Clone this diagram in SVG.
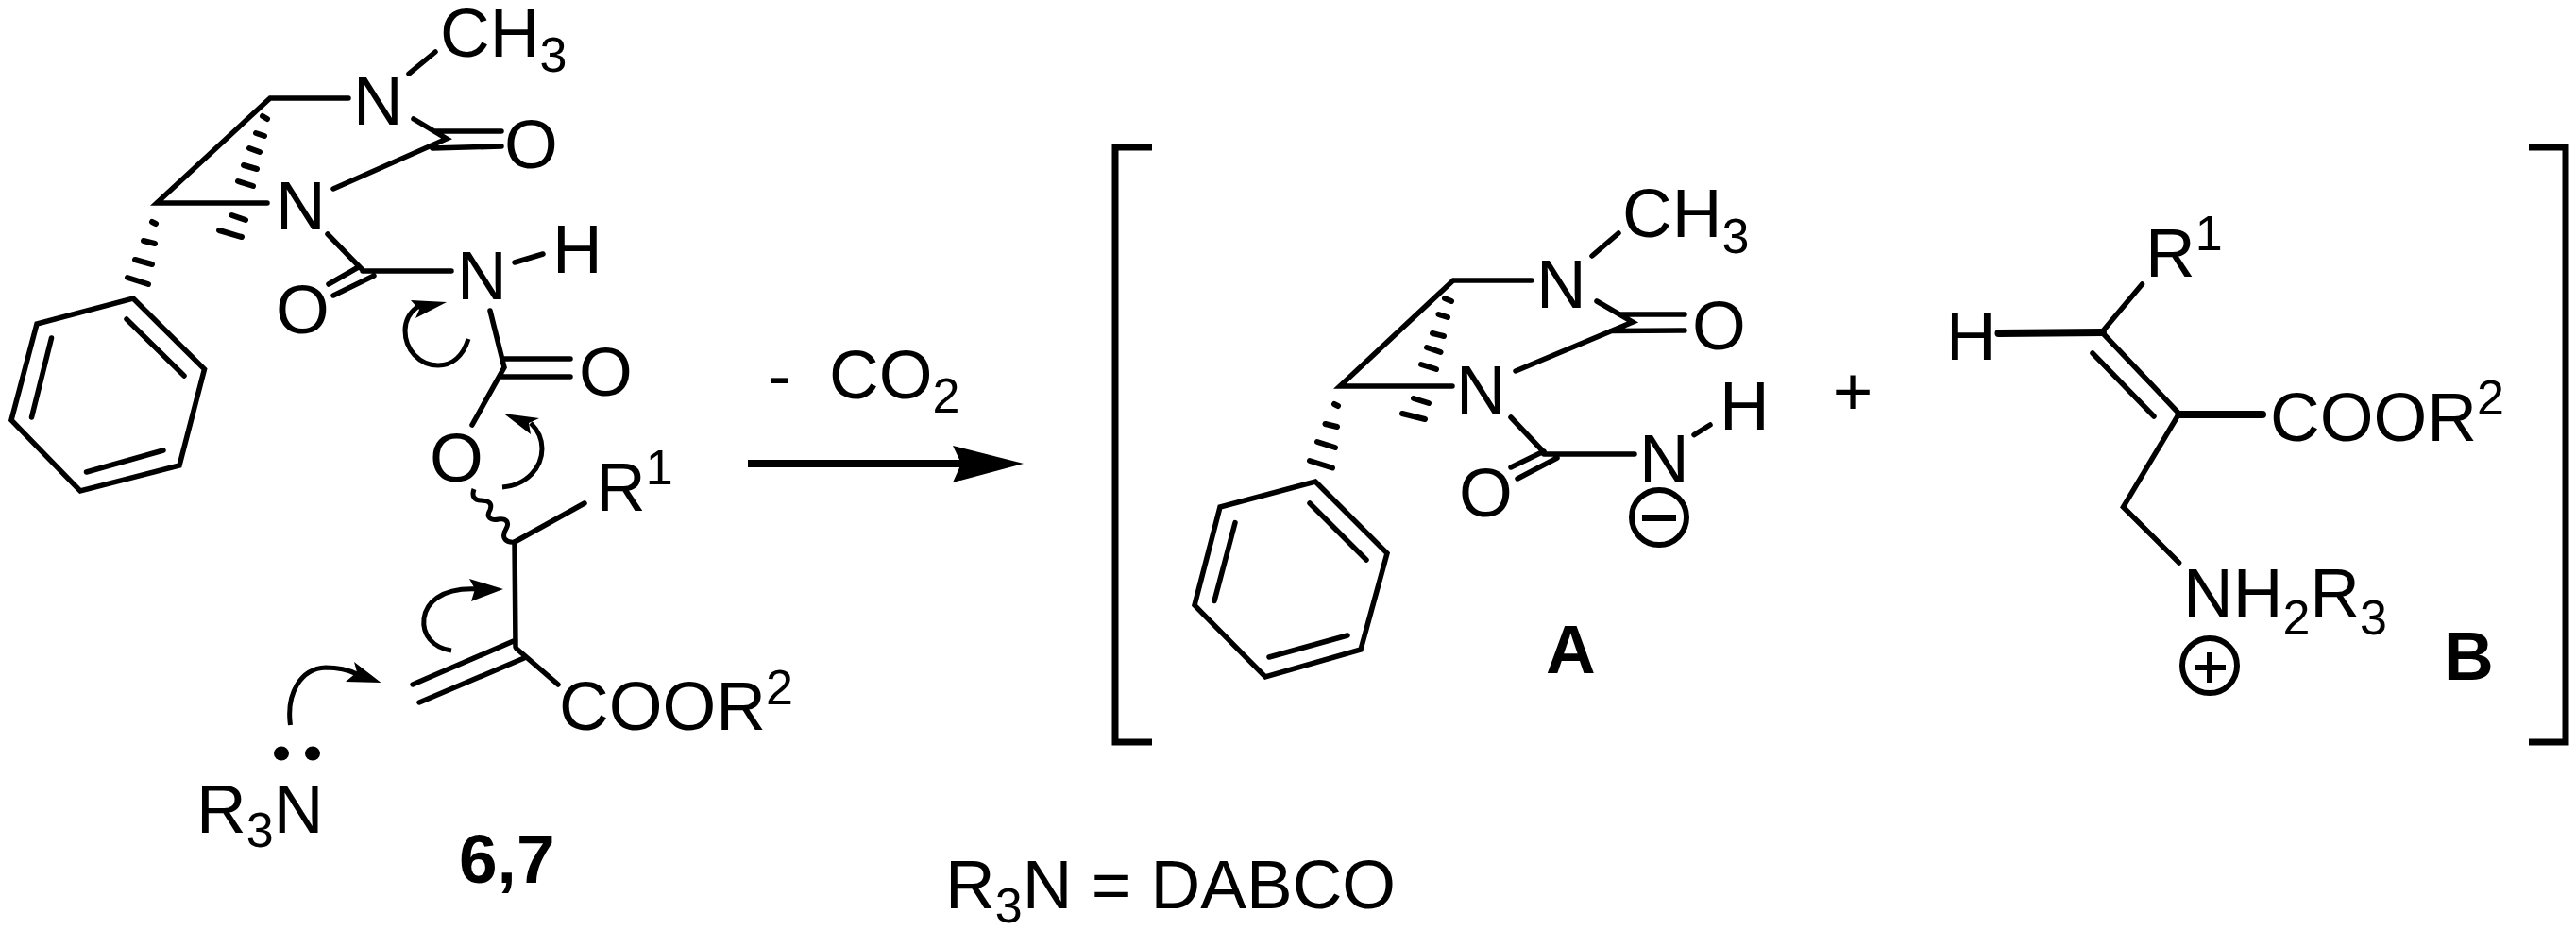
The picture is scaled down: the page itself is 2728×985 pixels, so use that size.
<svg xmlns="http://www.w3.org/2000/svg" width="2728" height="985" viewBox="0 0 2728 985">
<style>
text{font-family:"Liberation Sans",Arial,sans-serif;font-size:73px;fill:#000}
.s{font-size:52px}
.b{font-weight:700}
.l{fill:none;stroke:#000;stroke-width:5.500;stroke-linecap:round;stroke-linejoin:miter}
.t{stroke-width:8}
.h{fill:none;stroke:#000;stroke-width:6;stroke-linecap:round}
.a{fill:none;stroke:#000;stroke-width:5}
.c{fill:none;stroke:#000;stroke-width:6}
.f{fill:#000;stroke:none}
</style>
<rect width="2728" height="985" fill="#fff"/>
<g id="reactant-carbamate">
<path class="l" d="M369 104H286L166 215H283M433 78L461 55M438 126L473 147L353 200M460 139H531M458 157L531 155"/>
<path class="h" d="M278 123L283 126M271 141L280 144M264 157L275 161M258 175L272 179M252 192L268 197M245.500 228L260 233M232 244L256 251M161 235L165 237M152 255L164 258M143 275L161 280M135 294L157 301"/>
<path class="l" d="M141 316L216.500 391L190 493L85 520L12 445L39 343ZM134 338L195 398M54.500 358L33.500 442M173 477L91.500 500"/>
<path class="l" d="M347 248L384 286M384 287H478M379.500 283L348 301M396 292L353 313M545 278L575 269M519 329L534 389L500 450M533 380H604M531 399H604"/>
<path class="l" d="M545 574L619 533M545 574L546 685M546 678L437 725M555 697L444 744M547 687L591 725"/>
<path class="a" d="M502 518C499 526 503 530 509 530C516 530 522 532 519 540C514 548 520 552 528 550C536 549 540 553 536 560C530 570 536 575 545 574"/>
<text x="466" y="60">CH<tspan class="s" dy="16">3</tspan></text>
<text x="374" y="132">N</text>
<text x="534" y="178">O</text>
<text x="292" y="243">N</text>
<text x="292" y="353">O</text>
<text x="484" y="317">N</text>
<text x="585" y="289">H</text>
<text x="613" y="419">O</text>
<text x="455" y="510">O</text>
<text x="631" y="541">R<tspan class="s" dy="-28">1</tspan></text>
<text x="592" y="773">COOR<tspan class="s" dy="-27">2</tspan></text>
<text class="b" x="486" y="935">6,7</text>
</g>
<g id="amine">
<text x="208" y="882">R<tspan class="s" dy="15">3</tspan><tspan dy="-15">N</tspan></text>
<ellipse class="f" cx="298" cy="798" rx="8" ry="7.500"/>
<ellipse class="f" cx="331" cy="798" rx="8" ry="7.500"/>
</g>
<g id="curved-arrows">
<path class="a" d="M496 359C490 378 478 387 464 387C444 387 429 370 429 350C429 340 434 331 442 325"/>
<polygon class="f" points="473,320 435,318 444,328 440,337"/>
<path class="a" d="M532 516C558 514 574 495 574 475C574 465 570 456 562 448"/>
<polygon class="f" points="533.500,438 571,443 560,448 562,460"/>
<path class="a" d="M478 689C458 686 447 672 449 655C451 640 465 622 506 624"/>
<polygon class="f" points="533,624 497,613 503,624 499,637"/>
<path class="a" d="M307.500 768C303 735 318 708 345 707C358 707 368 709 378 714"/>
<polygon class="f" points="403.500,723 375,701 378,712 366,722"/>
</g>
<g id="reaction-arrow">
<path d="M792 491H1020" stroke="#000" stroke-width="8" fill="none"/>
<polygon class="f" points="1084,491 1009,472 1018,491 1009,511"/>
<text x="813" y="422">-</text>
<text x="878" y="422">CO<tspan class="s" dy="15">2</tspan></text>
</g>
<g id="brackets">
<path d="M1220 156H1181V786H1220M2678 156H2717V786H2678" fill="none" stroke="#000" stroke-width="7"/>
</g>
<g id="A">
<path class="l" d="M1622 297H1539L1419 409H1538M1686 271L1714 247M1691 319L1729 341L1605 393M1716 333H1784M1706 350.500L1784 350"/>
<path class="h" d="M1530 316L1537 319M1523.500 333L1533 336M1517 353L1529 356M1511 368L1525.500 373M1505 386L1521 391M1497 422L1513 427M1485 438L1509 444M1413 428L1417 430M1403.500 449L1416 452M1395 468L1414 474M1387 488L1411 495.500"/>
<path class="l" d="M1393 510L1469 586L1441 688L1340 717L1265 641L1292 537ZM1387 533L1447 593M1308 553.600L1286 636.500M1427 673L1344 696"/>
<path class="l" d="M1600 442L1635 479M1635 481H1731M1635 478L1600 495M1649 485L1607 507M1794 460.600L1811 450"/>
<text x="1718" y="251">CH<tspan class="s" dy="16.500">3</tspan></text>
<text x="1627" y="326">N</text>
<text x="1792" y="370">O</text>
<text x="1542" y="438">N</text>
<text x="1545" y="547">O</text>
<text x="1736" y="511">N</text>
<text x="1821" y="455">H</text>
<circle class="c" cx="1757" cy="548" r="29"/>
<rect class="f" x="1739" y="545" width="36" height="7"/>
<text class="b" x="1637" y="713">A</text>
</g>
<g id="plus"><text x="1962" y="439" text-anchor="middle">+</text></g>
<g id="B">
<path class="l" d="M2227 350.500L2268.500 301M2227 353L2307.600 438M2216 374L2281 441M2306.500 440L2248.500 537L2307.600 596"/>
<path class="l t" d="M2116.500 353L2227 352M2307.600 439H2396"/>
<text x="2272" y="292.500">R<tspan class="s" dy="-28">1</tspan></text>
<text x="2061" y="381">H</text>
<text x="2404" y="467">COOR<tspan class="s" dy="-28">2</tspan></text>
<text x="2312" y="653">NH<tspan class="s" dy="18.500">2</tspan><tspan dy="-18.500">R</tspan><tspan class="s" dy="18.500">3</tspan></text>
<circle class="c" cx="2340" cy="705" r="29"/>
<path d="M2324 707H2357M2340 691V723" fill="none" stroke="#000" stroke-width="6"/>
<text class="b" x="2588" y="719.500">B</text>
</g>
<g id="note">
<text x="1001" y="962">R<tspan class="s" dy="15">3</tspan><tspan dy="-15">N = DABCO</tspan></text>
</g>
</svg>
